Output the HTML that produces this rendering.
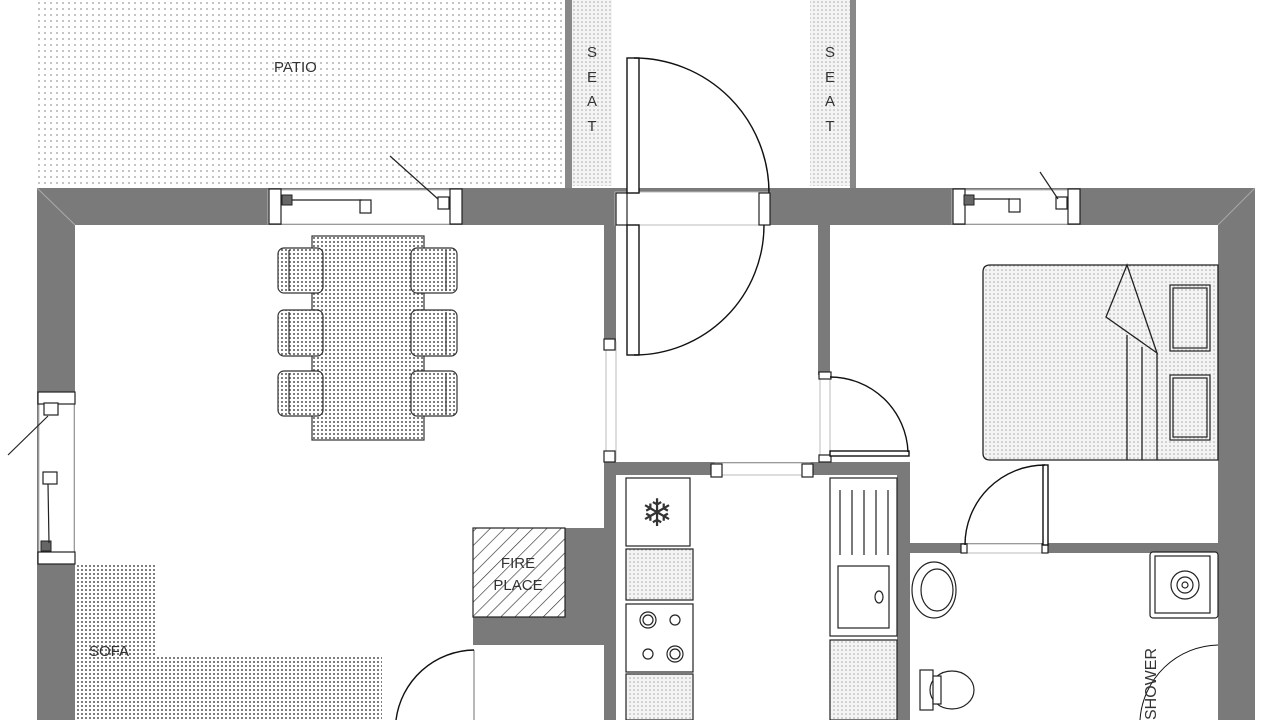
<!DOCTYPE html>
<html><head><meta charset="utf-8"><style>
html,body{margin:0;padding:0;background:#fff;width:1280px;height:720px;overflow:hidden}
svg{display:block}
text{font-family:"Liberation Sans",sans-serif;fill:#333}
</style></head><body>
<svg width="1280" height="720" viewBox="0 0 1280 720" xmlns="http://www.w3.org/2000/svg">
<defs>
<pattern id="pd" width="6" height="6" patternUnits="userSpaceOnUse"><rect width="6" height="6" fill="#fff"/><circle cx="3" cy="3" r="0.9" fill="#999"/></pattern>
<pattern id="dd" width="4" height="4" patternUnits="userSpaceOnUse"><rect width="4" height="4" fill="#fff"/><circle cx="2" cy="2" r="1" fill="#555"/></pattern>
<pattern id="ld" width="4" height="4" patternUnits="userSpaceOnUse"><rect width="4" height="4" fill="#f4f4f4"/><circle cx="2" cy="2" r="0.8" fill="#aaa"/></pattern>
<pattern id="hatch" width="10" height="10" patternUnits="userSpaceOnUse" patternTransform="rotate(45)"><rect width="10" height="10" fill="#fff"/><line x1="0" y1="0" x2="0" y2="10" stroke="#333" stroke-width="1.3"/></pattern>
</defs>
<rect x="37" y="0" width="528" height="186" fill="url(#pd)"/>
<rect x="565" y="0" width="7" height="188" fill="#888"/>
<rect x="572" y="0" width="40" height="186" fill="url(#ld)"/>
<rect x="810" y="0" width="40" height="186" fill="url(#ld)"/>
<rect x="850" y="0" width="6" height="188" fill="#888"/>
<text x="274" y="72" font-size="15">PATIO</text>
<g font-size="15" text-anchor="middle"><text x="592" y="57">S</text><text x="592" y="82">E</text><text x="592" y="106">A</text><text x="592" y="131">T</text>
<text x="830" y="57">S</text><text x="830" y="82">E</text><text x="830" y="106">A</text><text x="830" y="131">T</text></g>
<g fill="#7a7a7a">
<rect x="37" y="188" width="1218" height="37"/>
<rect x="37" y="188" width="38" height="532"/>
<rect x="1218" y="188" width="37" height="532"/>
<rect x="604" y="225" width="12" height="117"/>
<rect x="604" y="460" width="12" height="260"/>
<rect x="818" y="225" width="12" height="150"/>
<rect x="604" y="462" width="306" height="13"/>
<rect x="897" y="462" width="13" height="258"/>
<rect x="910" y="543" width="308" height="10"/>
<rect x="565" y="528" width="39" height="117"/>
<rect x="473" y="617" width="131" height="28"/>
</g>
<g stroke="#aaa" stroke-width="1"><line x1="37" y1="188" x2="75" y2="225"/><line x1="1255" y1="188" x2="1218" y2="225"/></g>
<g fill="#fff" stroke="#bbb" stroke-width="1">
<rect x="268" y="190" width="194" height="34"/>
<rect x="952" y="190" width="128" height="34"/>
<rect x="615" y="192" width="155" height="33"/>
<rect x="39" y="392" width="35" height="172"/>
<rect x="606" y="342" width="10" height="118"/>
<rect x="715" y="463" width="95" height="12"/>
<rect x="820" y="375" width="10" height="87"/>
<rect x="962" y="544" width="86" height="9"/>
</g>
<g fill="#fff" stroke="#222" stroke-width="1.2">
<rect x="269" y="189" width="12" height="35"/><rect x="450" y="189" width="12" height="35"/>
<rect x="953" y="189" width="12" height="35"/><rect x="1068" y="189" width="12" height="35"/>
<rect x="38" y="392" width="37" height="12"/><rect x="38" y="552" width="37" height="12"/>
<rect x="616" y="193" width="11" height="32"/><rect x="759" y="193" width="11" height="32"/>
<rect x="604" y="339" width="11" height="11"/><rect x="604" y="451" width="11" height="11"/>
<rect x="711" y="464" width="11" height="13"/><rect x="802" y="464" width="11" height="13"/>
<rect x="819" y="372" width="12" height="7"/><rect x="819" y="455" width="12" height="7"/>
<rect x="360" y="200" width="11" height="13"/><rect x="438" y="197" width="11" height="12"/>
<rect x="1009" y="199" width="11" height="13"/><rect x="1056" y="197" width="11" height="12"/>
<rect x="44" y="403" width="14" height="12"/><rect x="43" y="472" width="14" height="12"/>
<rect x="961" y="544" width="6" height="9"/><rect x="1042" y="544" width="6" height="9"/>
</g>
<g fill="#666" stroke="#222"><rect x="282" y="195" width="10" height="10"/><rect x="964" y="195" width="10" height="10"/><rect x="41" y="541" width="10" height="10"/></g>
<g stroke="#222" stroke-width="1.2" fill="none">
<line x1="292" y1="200" x2="362" y2="200"/><line x1="974" y1="199" x2="1010" y2="199"/><line x1="48" y1="484" x2="49" y2="543"/>
<line x1="390" y1="156" x2="438" y2="199"/><line x1="1040" y1="172" x2="1058" y2="199"/><line x1="8" y1="455" x2="48" y2="416"/>
</g>
<g stroke="#111" stroke-width="1.4" fill="#fff">
<rect x="627" y="58" width="12" height="135"/>
<rect x="627" y="225" width="12" height="130"/>
<path d="M634 58 A135 135 0 0 1 769 193" fill="none"/>
<path d="M764 225 A130 130 0 0 1 634 355" fill="none"/>
<rect x="830" y="451" width="79" height="5"/>
<path d="M830 377 A78 78 0 0 1 908 452" fill="none"/>
<rect x="1043" y="465" width="5" height="80"/>
<path d="M1045 465 A80 80 0 0 0 965 545" fill="none"/>
<line x1="474" y1="650" x2="474" y2="720" stroke="#999"/>
<path d="M474 650 A80 80 0 0 0 396 720" fill="none"/>
<path d="M1218 645 A80 80 0 0 0 1140 720" fill="none" stroke-width="1"/>
</g>
<g stroke="#333" stroke-width="1.2">
<rect x="312" y="236" width="112" height="204" fill="url(#dd)"/>
<g fill="url(#dd)">
<rect x="278" y="248" width="45" height="45" rx="6"/><rect x="278" y="310" width="45" height="46" rx="6"/><rect x="278" y="371" width="45" height="45" rx="6"/>
<rect x="411" y="248" width="46" height="45" rx="6"/><rect x="411" y="310" width="46" height="46" rx="6"/><rect x="411" y="371" width="46" height="45" rx="6"/>
</g>
<g fill="none"><line x1="289" y1="250" x2="289" y2="291"/><line x1="289" y1="312" x2="289" y2="354"/><line x1="289" y1="373" x2="289" y2="414"/>
<line x1="446" y1="250" x2="446" y2="291"/><line x1="446" y1="312" x2="446" y2="354"/><line x1="446" y1="373" x2="446" y2="414"/></g>
</g>
<path d="M76 565 H155 V655 H382 V720 H76 Z" fill="url(#dd)"/>
<text x="89" y="656" font-size="15">SOFA</text>
<rect x="473" y="528" width="92" height="89" fill="url(#hatch)" stroke="#222" stroke-width="1.2"/>
<text x="518" y="568" font-size="15" text-anchor="middle">FIRE</text>
<text x="518" y="590" font-size="15" text-anchor="middle">PLACE</text>
<g stroke="#222" stroke-width="1.2">
<rect x="626" y="478" width="64" height="68" fill="#fff"/>
<rect x="626" y="549" width="67" height="51" fill="url(#ld)"/>
<rect x="626" y="604" width="67" height="68" fill="#fff"/>
<rect x="626" y="674" width="67" height="46" fill="url(#ld)"/>
<circle cx="648" cy="620" r="8" fill="none"/><circle cx="648" cy="620" r="5" fill="none"/>
<circle cx="675" cy="620" r="5" fill="none"/><circle cx="648" cy="654" r="5" fill="none"/>
<circle cx="675" cy="654" r="8" fill="none"/><circle cx="675" cy="654" r="5" fill="none"/>
<rect x="830" y="478" width="67" height="158" fill="#fff"/>
<rect x="838" y="566" width="51" height="62" fill="#fff"/>
<ellipse cx="879" cy="597" rx="4" ry="6" fill="none"/>
<g fill="none"><line x1="840" y1="490" x2="840" y2="555"/><line x1="852" y1="490" x2="852" y2="555"/><line x1="864" y1="490" x2="864" y2="555"/><line x1="876" y1="490" x2="876" y2="555"/><line x1="888" y1="490" x2="888" y2="555"/></g>
<rect x="830" y="640" width="67" height="80" fill="url(#ld)"/>
</g>
<text x="657" y="526" font-size="38" text-anchor="middle" fill="#222">❄</text>
<g stroke="#222" stroke-width="1.3">
<path d="M990 265 H1218 V460 H990 Q983 460 983 453 V272 Q983 265 990 265 Z" fill="url(#ld)"/>
<path d="M1127 265 L1106 317 L1157 353 Z" fill="url(#ld)"/>
<g fill="none"><line x1="1127" y1="335" x2="1127" y2="460"/><line x1="1142" y1="347" x2="1142" y2="460"/><line x1="1157" y1="353" x2="1157" y2="460"/>
<rect x="1170" y="285" width="40" height="66" stroke-width="1.2"/><rect x="1173" y="288" width="34" height="60" stroke-width="1.2"/>
<rect x="1170" y="375" width="40" height="65" stroke-width="1.2"/><rect x="1173" y="378" width="34" height="59" stroke-width="1.2"/></g>
</g>
<g stroke="#222" stroke-width="1.2" fill="#fff">
<ellipse cx="934" cy="590" rx="22" ry="28"/><ellipse cx="937" cy="590" rx="16" ry="21"/>
<rect x="920" y="670" width="13" height="40"/><ellipse cx="952" cy="690" rx="22" ry="19"/><rect x="933" y="676" width="8" height="28"/>
<rect x="1150" y="552" width="68" height="66" rx="3"/><rect x="1155" y="556" width="55" height="57"/>
<circle cx="1185" cy="585" r="14" fill="none"/><circle cx="1185" cy="585" r="8" fill="none"/><circle cx="1185" cy="585" r="3" fill="none"/>
</g>
<text x="0" y="0" font-size="16" transform="translate(1156 720) rotate(-90)">SHOWER</text>
</svg>
</body></html>
